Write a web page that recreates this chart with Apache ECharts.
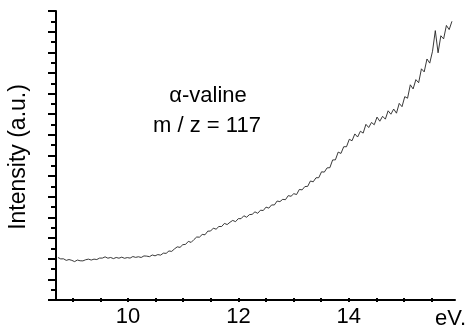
<!DOCTYPE html>
<html>
<head>
<meta charset="utf-8">
<script src="https://cdn.jsdelivr.net/npm/echarts@6/dist/echarts.min.js"></script>
<style>html,body{margin:0;padding:0;background:#fff}#chart{width:468px;height:328px}</style>
</head>
<body>
<div id="chart"></div>
<script>
// photon energy (eV)
var energies = [8.75,8.80,8.85,8.90,8.95,9.00,9.05,9.10,9.15,9.20,9.25,9.30,9.35,9.40,9.45,9.50,9.55,9.60,9.65,9.70,9.75,9.80,9.85,9.90,9.95,
10.00,10.05,10.10,10.15,10.20,10.25,10.30,10.35,10.40,10.45,10.50,10.55,10.60,10.65,10.70,10.75,10.80,10.85,10.90,10.95,
11.00,11.05,11.10,11.15,11.20,11.25,11.30,11.35,11.40,11.45,11.50,11.55,11.60,11.65,11.70,11.75,11.80,11.85,11.90,11.95,
12.00,12.05,12.10,12.15,12.20,12.25,12.30,12.35,12.40,12.45,12.50,12.55,12.60,12.65,12.70,12.75,12.80,12.85,12.90,12.95,
13.00,13.05,13.10,13.15,13.20,13.25,13.30,13.35,13.40,13.45,13.50,13.55,13.60,13.65,13.70,13.75,13.80,13.85,13.90,13.95,
14.00,14.05,14.10,14.15,14.20,14.25,14.30,14.35,14.40,14.45,14.50,14.55,14.60,14.65,14.70,14.75,14.80,14.85,14.90,14.95,
15.00,15.05,15.10,15.15,15.20,15.25,15.30,15.35,15.40,15.45,15.50,15.55,15.60,15.65,15.70,15.75,15.80,15.85];
// intensity (a.u.)
var intensities = [4.12,3.98,3.99,3.84,3.92,3.84,3.72,3.87,3.80,3.79,3.90,3.96,3.87,3.96,3.92,4.06,4.06,4.18,4.05,4.12,4.01,4.12,4.05,4.15,4.04,
4.11,4.06,4.21,4.13,4.19,4.12,4.27,4.25,4.20,4.36,4.28,4.40,4.35,4.54,4.52,4.75,4.71,4.95,5.15,5.10,
5.36,5.39,5.68,5.58,5.85,6.10,6.09,6.35,6.32,6.67,6.68,6.96,6.86,7.12,7.12,7.42,7.31,7.53,7.71,7.59,
7.88,7.88,8.16,8.02,8.27,8.30,8.54,8.40,8.70,8.67,9.00,8.90,9.21,9.21,9.59,9.53,9.75,9.72,10.11,10.05,
10.30,10.22,10.71,10.67,10.99,11.01,11.53,11.45,11.84,11.85,12.42,12.39,12.80,12.82,13.57,13.58,14.33,14.20,14.85,14.85,
15.57,15.43,16.09,15.79,16.35,16.17,17.02,16.71,17.20,16.98,17.72,17.32,17.80,17.52,18.33,18.00,18.50,18.10,19.05,18.73,
19.70,19.55,20.85,20.45,21.35,21.05,22.40,22.10,23.35,22.95,24.10,26.10,23.95,25.60,25.30,26.60,26.20,27.00];
var xTickLabels = [10, 12, 14];
var yTitle = 'Intensity (a.u.)';
var xUnit = 'eV.';
var annotation = ['\u03b1-valine', 'm / z = 117'];

var font = 'Liberation Sans, Arial, Helvetica, sans-serif';
var seriesData = energies.map(function (e, i) { return [e, intensities[i]]; });

var chart = echarts.init(document.getElementById('chart'), null, {renderer: 'canvas'});
chart.setOption({
  animation: false,
  backgroundColor: '#fff',
  grid: [
    {left: 50, right: 13, top: 11, bottom: 28},
    {left: 72.7, right: 36.3, top: 11, bottom: 28}
  ],
  xAxis: [
    {gridIndex: 0, type: 'value', min: 8.607, max: 15.905,
     axisLine: {show: true, lineStyle: {color: '#000', width: 2}},
     axisTick: {show: false}, axisLabel: {show: false}, splitLine: {show: false}},
    {gridIndex: 1, type: 'value', min: 9, max: 15.5, interval: 0.5,
     axisLine: {show: false},
     axisTick: {show: true, length: 4, lineStyle: {color: '#000', width: 2}},
     axisLabel: {show: true, margin: 8, fontSize: 22, color: '#000', fontFamily: font,
       formatter: function (v) { return xTickLabels.indexOf(Math.round(v * 100) / 100) >= 0 ? String(v) : ''; }},
     splitLine: {show: false}}
  ],
  yAxis: [
    {gridIndex: 0, type: 'value', min: 0, max: 28, interval: 2, offset: -6,
     axisLine: {show: true, lineStyle: {color: '#000', width: 2}},
     axisTick: {show: true, length: 8, lineStyle: {color: '#000', width: 2}},
     minorTick: {show: true, splitNumber: 2, length: 5, lineStyle: {color: '#000', width: 2}},
     axisLabel: {show: false}, splitLine: {show: false}, minorSplitLine: {show: false}},
    {gridIndex: 1, type: 'value', min: 0, max: 28, show: false}
  ],
  series: [{
    type: 'line', xAxisIndex: 0, yAxisIndex: 0, data: seriesData,
    showSymbol: false, symbol: 'none', smooth: false,
    lineStyle: {color: '#222', width: 0.9}
  }],
  graphic: [
    {type: 'text', x: 19, y: 157, rotation: Math.PI / 2,
     style: {text: yTitle, font: '23px ' + font, fill: '#000', textAlign: 'center', textVerticalAlign: 'middle'}},
    {type: 'text', x: 466, y: 319,
     style: {text: xUnit, font: '22px ' + font, fill: '#000', textAlign: 'right', textVerticalAlign: 'middle'}},
    {type: 'text', x: 208, y: 96,
     style: {text: annotation[0], font: '22px ' + font, fill: '#000', textAlign: 'center', textVerticalAlign: 'middle'}},
    {type: 'text', x: 207, y: 126,
     style: {text: annotation[1], font: '22px ' + font, fill: '#000', textAlign: 'center', textVerticalAlign: 'middle'}}
  ]
});
</script>
</body>
</html>
